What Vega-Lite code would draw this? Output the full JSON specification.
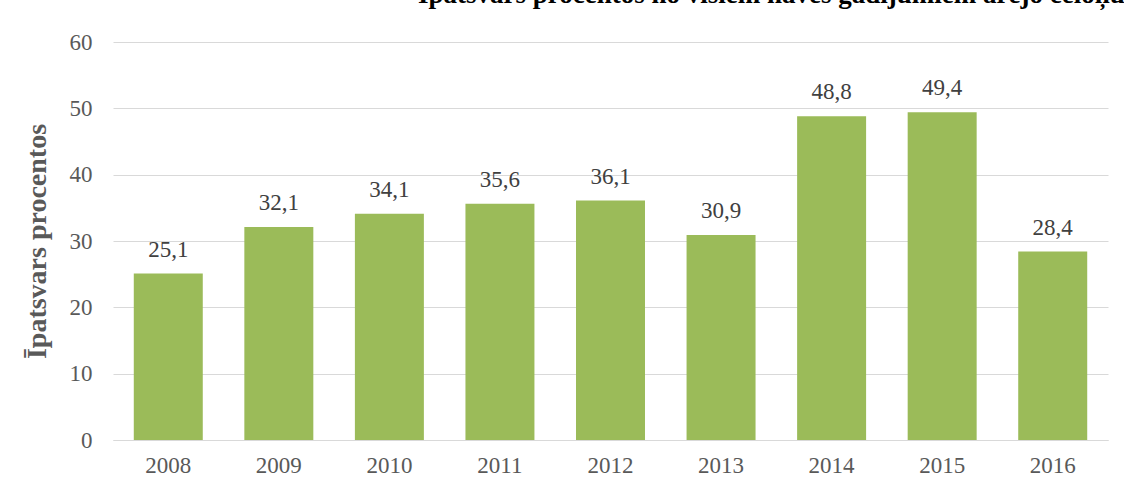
{
  "$schema": "https://vega.github.io/schema/vega-lite/v6.json",
  "width": 995,
  "height": 398,
  "autosize": {"type": "none"},
  "padding": {"left": 113, "top": 42, "right": 16, "bottom": 50},
  "background": "white",
  "config": {
    "locale": {"number": {"decimal": ",", "thousands": " ", "grouping": [3], "currency": ["", " €"]}},
    "view": {"stroke": null},
    "font": "Liberation Serif"
  },
  "title": {
    "text": "Īpatsvars procentos no visiem nāves gadījumiem ārējo cēloņu dēļ",
    "anchor": "start",
    "frame": "group",
    "dx": 305,
    "dy": 21,
    "offset": 22,
    "baseline": "alphabetic",
    "font": "Liberation Serif",
    "fontSize": 27,
    "fontWeight": "bold",
    "color": "#000000"
  },
  "data": {
    "values": [
      {"year": "2008", "value": 25.1},
      {"year": "2009", "value": 32.1},
      {"year": "2010", "value": 34.1},
      {"year": "2011", "value": 35.6},
      {"year": "2012", "value": 36.1},
      {"year": "2013", "value": 30.9},
      {"year": "2014", "value": 48.8},
      {"year": "2015", "value": 49.4},
      {"year": "2016", "value": 28.4}
    ]
  },
  "encoding": {
    "x": {
      "field": "year",
      "type": "nominal",
      "scale": {"paddingInner": 0.376, "paddingOuter": 0.188},
      "axis": {
        "title": null,
        "labelAngle": 0,
        "labelFont": "Liberation Serif",
        "labelFontSize": 23,
        "labelColor": "#595959",
        "labelPadding": 14,
        "ticks": false,
        "domain": true,
        "domainColor": "#d9d9d9",
        "domainWidth": 1
      }
    },
    "y": {
      "field": "value",
      "type": "quantitative",
      "scale": {"domain": [0, 60]},
      "axis": {
        "title": "Īpatsvars procentos",
        "titleFont": "Liberation Serif",
        "titleFontSize": 28,
        "titleFontWeight": "bold",
        "titleColor": "#595959",
        "titlePadding": 18,
        "values": [0, 10, 20, 30, 40, 50, 60],
        "labelFont": "Liberation Serif",
        "labelFontSize": 23,
        "labelColor": "#595959",
        "labelPadding": 21,
        "ticks": false,
        "domain": false,
        "gridColor": "#d9d9d9",
        "gridWidth": 1
      }
    }
  },
  "layer": [
    {"mark": {"type": "bar", "color": "#9bbb59"}},
    {
      "mark": {"type": "text", "baseline": "alphabetic", "dy": -17, "font": "Liberation Serif", "fontSize": 23, "color": "#404040"},
      "encoding": {"text": {"field": "value", "type": "quantitative", "format": ".1f"}}
    }
  ]
}
